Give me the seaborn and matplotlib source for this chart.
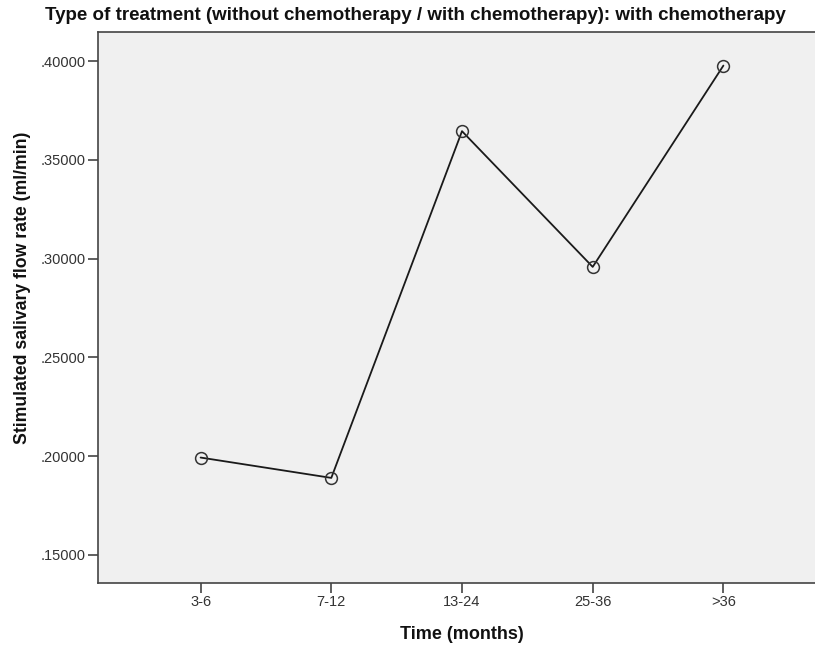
import matplotlib
matplotlib.use("Agg")
import matplotlib.pyplot as plt
import seaborn as sns
import pandas as pd
from matplotlib.ticker import FuncFormatter

categories = ["3-6", "7-12", "13-24", "25-36", ">36"]
flow_rate = [0.1993, 0.1890, 0.3645, 0.2958, 0.3977]
y_ticks = [0.15, 0.20, 0.25, 0.30, 0.35, 0.40]

df = pd.DataFrame({"time": categories, "flow": flow_rate})

sns.set_style("white")
plt.rcParams["font.family"] = ["Liberation Sans", "DejaVu Sans"]

fig = plt.figure(figsize=(8.15, 6.45), dpi=100)
ax = fig.add_axes([98/815, 1-583/645, (826-98)/815, (583-32)/645])
ax.set_facecolor("#F0F0F0")

sns.lineplot(data=df, x="time", y="flow", ax=ax, sort=False, color="#1a1a1a",
             linewidth=1.3, marker="o", markersize=8.5, markerfacecolor="none",
             markeredgecolor="#333333", markeredgewidth=1.1)

ax.set_xlim(-0.785, 4.785)
ax.set_ylim(0.1358, 0.4147)
ax.set_yticks(y_ticks)
ax.yaxis.set_major_formatter(FuncFormatter(lambda v, p: ("%.5f" % v).lstrip("0")))

for s in ["left", "bottom", "top", "right"]:
    ax.spines[s].set_color("#444444")
    ax.spines[s].set_linewidth(1.2)

ax.tick_params(axis="both", which="both", length=7, width=1.2, color="#444444",
               labelsize=10.5, labelcolor="#333333", direction="out", pad=2,
               left=True, bottom=True)

ax.set_xlabel("Time (months)", fontsize=13, fontweight="bold", labelpad=12, color="#111111")
ax.set_ylabel("Stimulated salivary flow rate (ml/min)", fontsize=12.7, fontweight="bold", color="#111111")
ax.yaxis.set_label_coords(-0.092, 0.535)

fig.text(415.5/815, 1-15/645, "Type of treatment (without chemotherapy / with chemotherapy): with chemotherapy",
         ha="center", va="center", fontsize=13.5, fontweight="bold", color="#111111")

fig.savefig("out.png", dpi=100)
